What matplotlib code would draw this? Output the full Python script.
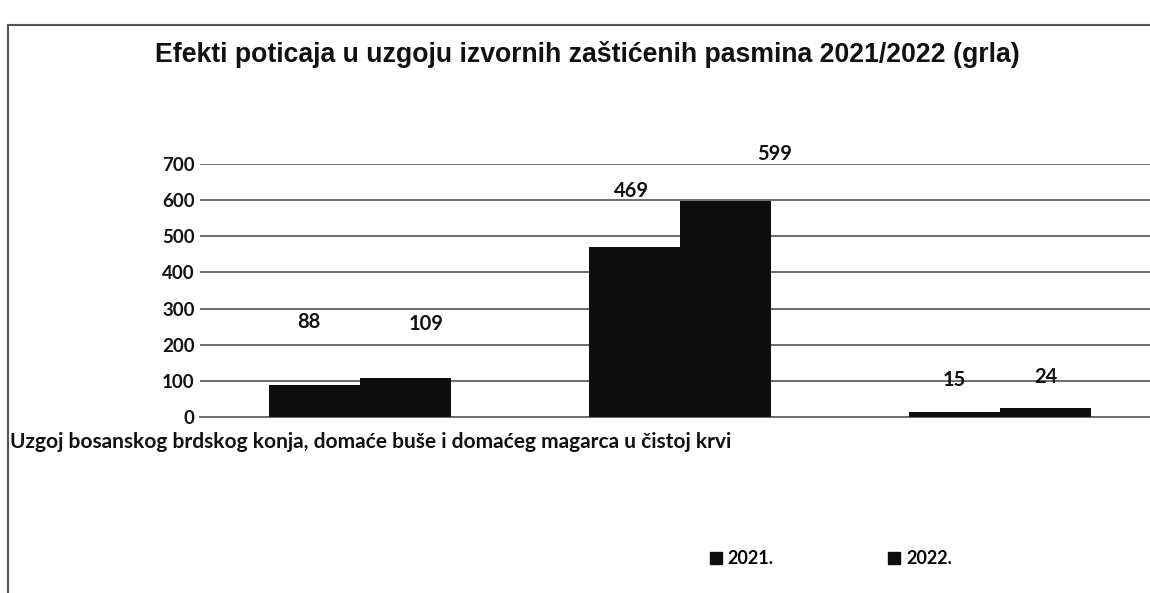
import matplotlib.pyplot as plt
from matplotlib.lines import Line2D
from matplotlib.patches import Rectangle
from matplotlib.transforms import ScaledTranslation

title = "Efekti poticaja u uzgoju izvornih zaštićenih pasmina 2021/2022 (grla)"
categories = [
    "Uzgoj bosanskog brdskog konja, domaće buše i domaćeg magarca u čistoj krvi",
    "",
    "",
]
series_names = ["2021.", "2022."]
values_2021 = [88, 469, 15]
values_2022 = [109, 599, 24]
y_ticks = [0, 100, 200, 300, 400, 500, 600, 700]

# label offsets (pixels) relative to each bar's top centre
offsets_2021 = [(-6, 63), (-3, 56), (0, 32)]
offsets_2022 = [(21, 54), (49, 47), (0, 31)]

W, H = 1150, 593
fig = plt.figure(figsize=(W / 100, H / 100), dpi=100)
fig.patch.set_facecolor("white")

# outer chart frame
fig.add_artist(Rectangle((8 / W, -0.05), 1.2, (H - 25) / H + 0.05,
                         transform=fig.transFigure, fill=False,
                         edgecolor="#555555", linewidth=1.5))

ax = fig.add_axes([200 / W, (H - 417) / H, 960 / W, 253 / H])
ax.set_facecolor("none")

bar_w = 0.285
x = list(range(len(categories)))
x1 = [i - bar_w / 2 for i in x]
x2 = [i + bar_w / 2 for i in x]
b1 = ax.bar(x1, values_2021, width=bar_w, color="#0d0d0d", zorder=3)
b2 = ax.bar(x2, values_2022, width=bar_w, color="#0d0d0d", zorder=3)

ax.set_xlim(-0.5, 2.5)
ax.set_ylim(0, 700)
ax.set_yticks(y_ticks)
ax.set_yticklabels([str(v) for v in y_ticks])
ax.set_xticks(x)
ax.set_xticklabels(categories)

ax.grid(axis="y", color="#6e6e6e", linewidth=1.4, zorder=0)
ax.grid(axis="x", visible=False)
for s in ["left", "right", "top"]:
    ax.spines[s].set_visible(False)
ax.spines["bottom"].set_color("#6e6e6e")
ax.spines["bottom"].set_linewidth(1.4)

ax.tick_params(axis="y", length=0, pad=4, labelsize=13.5)
ax.tick_params(axis="x", length=0, pad=11, labelsize=15)
for lab in ax.get_yticklabels() + ax.get_xticklabels():
    lab.set_fontfamily("Lato")
    lab.set_fontweight("bold")
    lab.set_color("#111111")

# keep the long category caption inside the frame's left edge
first = ax.get_xticklabels()[0]
first.set_horizontalalignment("left")
first.set_transform(first.get_transform()
                    + ScaledTranslation(-3.5, 0, fig.dpi_scale_trans))

for bars, vals, offs in [(b1, values_2021, offsets_2021),
                         (b2, values_2022, offsets_2022)]:
    for rect, v, (dx, dy) in zip(bars, vals, offs):
        ax.annotate(str(v), (rect.get_x() + rect.get_width() / 2, v),
                    xytext=(dx, dy), textcoords="offset pixels",
                    ha="center", va="center", fontsize=14.5,
                    fontfamily="Lato", fontweight="bold", color="#111111")

fig.text(587 / W, 1 - 55 / H, title, ha="center", va="center",
         fontsize=19.2, fontweight="bold", fontfamily="Liberation Sans",
         color="#111111")

handles = [Line2D([], [], marker="s", linestyle="none", color="#0d0d0d",
                  markersize=9) for _ in series_names]
fig.legend(handles, series_names, loc="center",
           bbox_to_anchor=(831 / W, 1 - 559 / H), ncol=2, frameon=False,
           handlelength=0.6, handletextpad=0.35, columnspacing=6.4,
           prop={"family": "Lato", "weight": "bold", "size": 13})

fig.savefig("out.png", dpi=100)
